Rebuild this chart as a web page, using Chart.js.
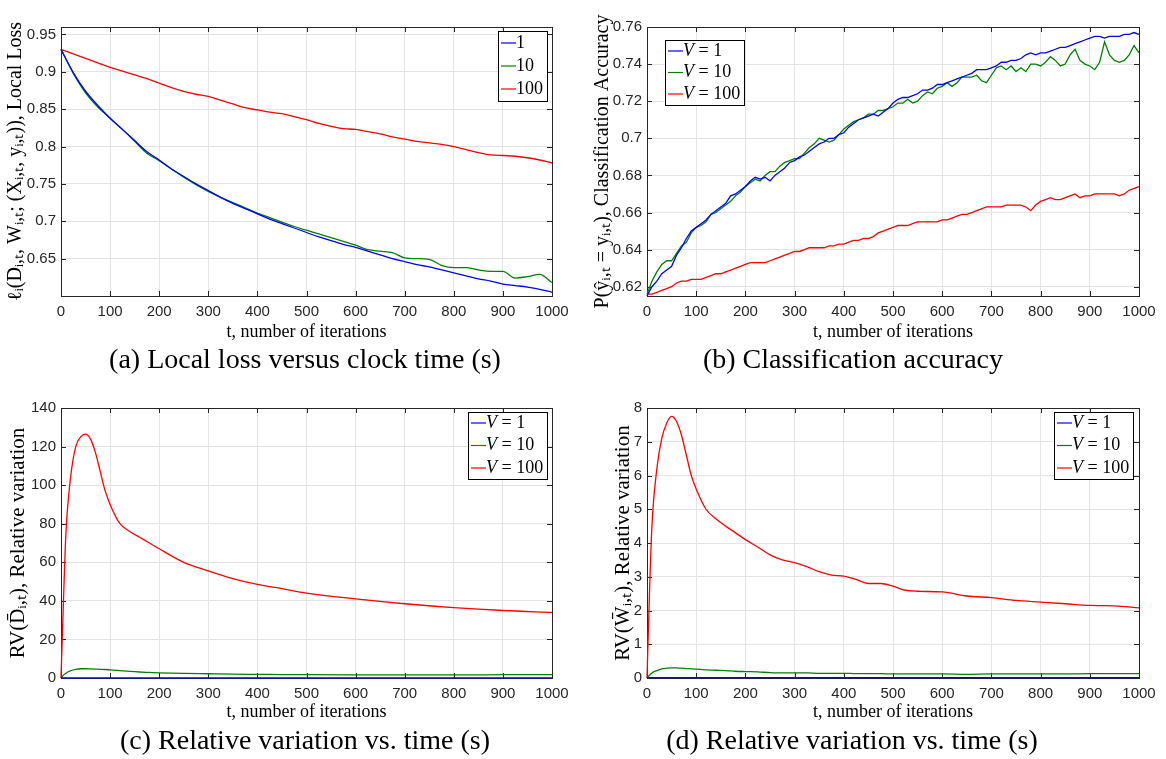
<!DOCTYPE html>
<html>
<head>
<meta charset="utf-8">
<script src="https://cdn.jsdelivr.net/npm/chart.js@4.4.0/dist/chart.umd.min.js"></script>
<style>
  body { margin: 0; background: #fff; }
  #page { position: relative; width: 1166px; height: 759px; overflow: hidden; }
  .panel { position: absolute; width: 583px; height: 345px; }
  .caption {
    position: absolute; font-family: "Liberation Serif", serif; font-size: 28px;
    color: #000; white-space: nowrap; transform: translate(-50%, -50%);
  }
</style>
</head>
<body>
<div id="page">
  <div class="panel" style="left:0;top:0"><canvas id="lossChart"></canvas></div>
  <div class="panel" style="left:583px;top:0"><canvas id="accChart"></canvas></div>
  <div class="panel" style="left:0;top:380px"><canvas id="rvdChart"></canvas></div>
  <div class="panel" style="left:583px;top:380px"><canvas id="rvwChart"></canvas></div>
  <div class="caption" style="left:305px;top:359px">(a) Local loss versus clock time (s)</div>
  <div class="caption" style="left:853px;top:359px">(b) Classification accuracy</div>
  <div class="caption" style="left:305px;top:740px">(c) Relative variation vs. time (s)</div>
  <div class="caption" style="left:852px;top:740px">(d) Relative variation vs. time (s)</div>
</div>
<script>
// ---- data ----
const xTicks = [0, 100, 200, 300, 400, 500, 600, 700, 800, 900, 1000];

// (a) local loss, sampled every 25 iterations
const lossT = [0, 25, 50, 75, 100, 125, 150, 175, 200, 225, 250, 275, 300, 325, 350, 375, 400, 425, 450, 475, 500,
  525, 550, 575, 600, 625, 650, 675, 700, 725, 750, 775, 800, 825, 850, 875, 900, 925, 950, 975, 1000];
const lossV1 = [0.930, 0.899, 0.874, 0.855, 0.838, 0.823, 0.808, 0.793, 0.782, 0.770, 0.760, 0.750, 0.741, 0.732,
  0.724, 0.717, 0.710, 0.703, 0.697, 0.691, 0.685, 0.679, 0.674, 0.669, 0.665, 0.660, 0.655, 0.650, 0.646, 0.642,
  0.639, 0.635, 0.631, 0.627, 0.623, 0.620, 0.616, 0.614, 0.612, 0.609, 0.605];
const lossV10 = [0.930, 0.898, 0.872, 0.853, 0.838, 0.823, 0.807, 0.791, 0.781, 0.770, 0.759, 0.749, 0.740, 0.732,
  0.725, 0.718, 0.711, 0.705, 0.699, 0.693, 0.688, 0.683, 0.678, 0.673, 0.668, 0.662, 0.660, 0.658, 0.651, 0.650,
  0.649, 0.641, 0.638, 0.638, 0.635, 0.633, 0.633, 0.624, 0.626, 0.629, 0.618];
const lossV100 = [0.930, 0.924, 0.918, 0.912, 0.906, 0.901, 0.896, 0.891, 0.885, 0.879, 0.874, 0.870, 0.867, 0.862,
  0.857, 0.852, 0.849, 0.846, 0.844, 0.840, 0.836, 0.831, 0.827, 0.824, 0.823, 0.820, 0.817, 0.813, 0.810, 0.807,
  0.805, 0.803, 0.800, 0.796, 0.792, 0.789, 0.788, 0.787, 0.785, 0.782, 0.778];
const lossTicks = [0.65, 0.7, 0.75, 0.8, 0.85, 0.9, 0.95];

// (b) classification accuracy, sampled every 10 iterations
const accT = [0, 10, 20, 30, 40, 50, 60, 70, 80, 90, 100, 110, 120, 130, 140, 150, 160, 170, 180, 190, 200,
  210, 220, 230, 240, 250, 260, 270, 280, 290, 300, 310, 320, 330, 340, 350, 360, 370, 380, 390, 400,
  410, 420, 430, 440, 450, 460, 470, 480, 490, 500, 510, 520, 530, 540, 550, 560, 570, 580, 590, 600,
  610, 620, 630, 640, 650, 660, 670, 680, 690, 700, 710, 720, 730, 740, 750, 760, 770, 780, 790, 800,
  810, 820, 830, 840, 850, 860, 870, 880, 890, 900, 910, 920, 930, 940, 950, 960, 970, 980, 990, 1000];
const accV1 = [0.615, 0.620, 0.623, 0.627, 0.629, 0.631, 0.637, 0.641, 0.646, 0.650, 0.652, 0.654, 0.656, 0.659,
  0.661, 0.663, 0.665, 0.669, 0.670, 0.672, 0.674, 0.677, 0.679, 0.678, 0.679, 0.677, 0.680, 0.682, 0.684, 0.687,
  0.688, 0.690, 0.691, 0.693, 0.695, 0.697, 0.698, 0.700, 0.700, 0.702, 0.703, 0.706, 0.708, 0.710, 0.711, 0.712,
  0.713, 0.712, 0.714, 0.716, 0.719, 0.721, 0.722, 0.722, 0.723, 0.724, 0.726, 0.726, 0.727, 0.729, 0.729, 0.730,
  0.731, 0.732, 0.733, 0.734, 0.735, 0.737, 0.737, 0.737, 0.738, 0.739, 0.741, 0.741, 0.742, 0.742, 0.743, 0.745,
  0.746, 0.745, 0.746, 0.746, 0.747, 0.748, 0.749, 0.749, 0.750, 0.751, 0.752, 0.753, 0.754, 0.755, 0.755, 0.754,
  0.755, 0.755, 0.755, 0.756, 0.756, 0.757, 0.756];
const accV10 = [0.616, 0.623, 0.628, 0.632, 0.634, 0.634, 0.638, 0.642, 0.644, 0.649, 0.652, 0.653, 0.655, 0.659,
  0.660, 0.662, 0.664, 0.666, 0.669, 0.671, 0.674, 0.676, 0.678, 0.677, 0.680, 0.682, 0.682, 0.685, 0.687, 0.688,
  0.689, 0.689, 0.692, 0.695, 0.697, 0.700, 0.699, 0.698, 0.699, 0.702, 0.705, 0.707, 0.709, 0.710, 0.711, 0.713,
  0.713, 0.715, 0.715, 0.716, 0.717, 0.719, 0.719, 0.721, 0.719, 0.720, 0.723, 0.725, 0.724, 0.727, 0.728, 0.730,
  0.728, 0.730, 0.733, 0.733, 0.733, 0.734, 0.731, 0.730, 0.734, 0.738, 0.739, 0.737, 0.739, 0.736, 0.738, 0.736,
  0.740, 0.740, 0.739, 0.741, 0.744, 0.742, 0.739, 0.740, 0.745, 0.748, 0.742, 0.740, 0.739, 0.737, 0.741, 0.752,
  0.745, 0.742, 0.741, 0.742, 0.745, 0.750, 0.746];
const accV100 = [0.616, 0.616, 0.617, 0.618, 0.619, 0.620, 0.622, 0.623, 0.623, 0.624, 0.624, 0.624, 0.625, 0.626,
  0.627, 0.627, 0.628, 0.629, 0.630, 0.631, 0.632, 0.633, 0.633, 0.633, 0.633, 0.634, 0.635, 0.636, 0.637, 0.638,
  0.639, 0.639, 0.640, 0.641, 0.641, 0.641, 0.641, 0.642, 0.642, 0.643, 0.643, 0.644, 0.645, 0.645, 0.646, 0.646,
  0.647, 0.649, 0.650, 0.651, 0.652, 0.653, 0.653, 0.653, 0.654, 0.655, 0.655, 0.655, 0.655, 0.655, 0.656, 0.656,
  0.657, 0.658, 0.659, 0.659, 0.660, 0.661, 0.662, 0.663, 0.663, 0.663, 0.663, 0.664, 0.664, 0.664, 0.664, 0.663,
  0.661, 0.664, 0.666, 0.667, 0.668, 0.667, 0.667, 0.668, 0.669, 0.670, 0.668, 0.669, 0.669, 0.670, 0.670, 0.670,
  0.670, 0.670, 0.669, 0.670, 0.672, 0.673, 0.674];
const accTicks = [0.62, 0.64, 0.66, 0.68, 0.7, 0.72, 0.74, 0.76];

// (c) relative variation of D
const rvdT = [0, 5, 10, 20, 30, 40, 50, 60, 70, 80, 90, 100, 120, 140, 160, 180, 200, 250, 300, 350, 400, 450, 500,
  600, 700, 800, 900, 1000];
const rvdV1 = [0, 0.1, 0.1, 0.1, 0.1, 0.1, 0.1, 0.1, 0.1, 0.1, 0.1, 0.1, 0.1, 0.1, 0.1, 0.1, 0.1, 0.1, 0.1, 0.1,
  0.1, 0.1, 0.1, 0.1, 0.1, 0.1, 0.1, 0.1];
const rvdV10 = [0, 1.5, 2.5, 3.8, 4.5, 4.8, 4.8, 4.7, 4.6, 4.5, 4.4, 4.2, 3.8, 3.4, 3.1, 2.9, 2.7, 2.4, 2.2, 2.0, 1.9,
  1.8, 1.7, 1.6, 1.6, 1.6, 1.7, 1.8];
const rvdV100 = [0, 40, 75, 105, 120, 125, 126.5, 124, 117, 107, 97, 90, 80, 76, 73, 70, 67, 60, 55.5, 51.5, 48.5,
  46.3, 44, 41, 38.5, 36.5, 35, 34];
const rvdTicks = [0, 20, 40, 60, 80, 100, 120, 140];

// (d) relative variation of W
const rvwT = [0, 5, 10, 20, 30, 40, 50, 60, 70, 80, 90, 100, 120, 140, 160, 180, 200, 225, 250, 275, 300, 325, 350,
  375, 400, 425, 450, 475, 500, 525, 550, 600, 650, 700, 750, 800, 850, 900, 950, 1000];
const rvwV1 = [0, 0.01, 0.01, 0.01, 0.01, 0.01, 0.01, 0.01, 0.01, 0.01, 0.01, 0.01, 0.01, 0.01, 0.01, 0.01, 0.01,
  0.01, 0.01, 0.01, 0.01, 0.01, 0.01, 0.01, 0.01, 0.01, 0.01, 0.01, 0.01, 0.01, 0.01, 0.01, 0.01, 0.01, 0.01, 0.01,
  0.01, 0.01, 0.01, 0.01];
const rvwV10 = [0, 0.08, 0.15, 0.22, 0.27, 0.29, 0.3, 0.3, 0.29, 0.28, 0.27, 0.26, 0.24, 0.23, 0.22, 0.2, 0.19, 0.18,
  0.16, 0.15, 0.15, 0.15, 0.14, 0.14, 0.14, 0.13, 0.13, 0.13, 0.12, 0.12, 0.12, 0.12, 0.11, 0.12, 0.12, 0.12, 0.12,
  0.13, 0.13, 0.13];
const rvwV100 = [0, 2.5, 4.5, 6.2, 7.1, 7.55, 7.75, 7.6, 7.2, 6.6, 6.0, 5.6, 5.0, 4.72, 4.5, 4.3, 4.1, 3.88, 3.65,
  3.5, 3.42, 3.3, 3.15, 3.05, 3.02, 2.92, 2.8, 2.8, 2.72, 2.6, 2.57, 2.55, 2.43, 2.38, 2.3, 2.25, 2.2, 2.15, 2.14,
  2.08];
const rvwTicks = [0, 1, 2, 3, 4, 5, 6, 7, 8];

const legendPlain = ['1', '10', '100'];
const legendV = ['V = 1', 'V = 10', 'V = 100'];

const BLUE = '#0000ff', GREEN = '#008000', RED = '#ff0000';
const INK = '#262626';
const LEG_FONT = '18px "Liberation Serif"';
const LEG_FONT_IT = 'italic 18px "Liberation Serif"';

// box around the axes + inward tick marks (under the lines), boxed legend on top
const axesFrame = {
  id: 'axesFrame',
  beforeDatasetsDraw(chart) {
    const { ctx, chartArea: a, scales } = chart;
    ctx.save();
    ctx.strokeStyle = INK;
    ctx.lineWidth = 1;
    ctx.beginPath();
    scales.x.ticks.forEach(t => {
      const px = Math.round(scales.x.getPixelForValue(t.value)) + 0.5;
      ctx.moveTo(px, a.bottom); ctx.lineTo(px, a.bottom - 5);
      ctx.moveTo(px, a.top); ctx.lineTo(px, a.top + 5);
    });
    scales.y.ticks.forEach(t => {
      const py = Math.round(scales.y.getPixelForValue(t.value)) + 0.5;
      ctx.moveTo(a.left, py); ctx.lineTo(a.left + 5, py);
      ctx.moveTo(a.right, py); ctx.lineTo(a.right - 5, py);
    });
    ctx.stroke();
    ctx.strokeRect(Math.round(a.left) + 0.5, Math.round(a.top) + 0.5,
      Math.round(a.right - a.left), Math.round(a.bottom - a.top));
    ctx.restore();
  },
  afterDraw(chart, args, opts) {
    const { ctx, chartArea: a } = chart;
    ctx.save();
    const labels = opts.labels;
    ctx.textBaseline = 'middle';
    const measure = lab => {
      if (lab.startsWith('V')) {
        ctx.font = LEG_FONT_IT;
        const w1 = ctx.measureText('V').width;
        ctx.font = LEG_FONT;
        return w1 + ctx.measureText(lab.slice(1)).width;
      }
      ctx.font = LEG_FONT;
      return ctx.measureText(lab).width;
    };
    const textW = Math.max(...labels.map(measure));
    const w = Math.round(textW + 22);
    const h = opts.pad * 2 + opts.row * (labels.length - 1);
    const bx = opts.corner === 'right' ? Math.round(a.right - opts.dx - w) : Math.round(a.left + opts.dx);
    const by = Math.round(a.top + opts.dy);
    ctx.fillStyle = '#fff';
    ctx.fillRect(bx, by, w, h);
    ctx.strokeStyle = '#000';
    ctx.lineWidth = 1;
    ctx.strokeRect(bx + 0.5, by + 0.5, w, h);
    labels.forEach((lab, i) => {
      const cy = by + opts.pad + i * opts.row;
      ctx.strokeStyle = chart.data.datasets[i].borderColor;
      ctx.lineWidth = 1.2;
      ctx.beginPath();
      ctx.moveTo(bx + 3, cy); ctx.lineTo(bx + 18, cy);
      ctx.stroke();
      ctx.fillStyle = '#000';
      let tx = bx + 18;
      if (lab.startsWith('V')) {
        ctx.font = LEG_FONT_IT;
        ctx.fillText('V', tx, cy);
        tx += ctx.measureText('V').width;
        ctx.font = LEG_FONT;
        ctx.fillText(lab.slice(1), tx, cy);
      } else {
        ctx.font = LEG_FONT;
        ctx.fillText(lab, tx, cy);
      }
    });
    ctx.restore();
  }
};

function series(xs, ys, label, color, smooth) {
  return {
    label: label,
    data: xs.map((x, i) => ({ x: x, y: ys[i] })),
    borderColor: color,
    borderWidth: 1.3,
    pointRadius: 0,
    fill: false,
    clip: 2,
    cubicInterpolationMode: smooth ? 'monotone' : 'default',
    tension: 0
  };
}

function makeChart(id, datasets, cfg) {
  const ctx = document.getElementById(id).getContext('2d');
  return new Chart(ctx, {
    type: 'line',
    data: { datasets: datasets },
    options: {
      responsive: false,
      animation: false,
      maintainAspectRatio: false,
      layout: { padding: { top: cfg.top, right: cfg.right, left: 0, bottom: 0 } },
      scales: {
        x: {
          type: 'linear', min: 0, max: 1000,
          afterBuildTicks: s => { s.ticks = xTicks.map(v => ({ value: v })); },
          afterFit: s => { s.height = cfg.xHeight; },
          grid: { color: '#e3e3e3', drawTicks: false },
          border: { display: false },
          ticks: { color: INK, padding: 7, maxRotation: 0, autoSkip: false,
                   callback: v => String(v),
                   font: { family: '"Liberation Sans"', size: 15 } },
          title: { display: true, text: 't, number of iterations', color: '#000',
                   padding: { top: 0, bottom: 2 },
                   font: { family: '"Liberation Serif"', size: 18 } }
        },
        y: {
          type: 'linear', min: cfg.yMin, max: cfg.yMax,
          afterBuildTicks: s => { s.ticks = cfg.yTicks.map(v => ({ value: v })); },
          afterFit: s => { s.width = cfg.yWidth; },
          grid: { color: '#e3e3e3', drawTicks: false },
          border: { display: false },
          ticks: { color: INK, padding: 5,
                   callback: v => String(Number(v.toFixed(2))),
                   font: { family: '"Liberation Sans"', size: 15 } },
          title: { display: true, text: cfg.yTitle, color: '#000',
                   padding: { top: cfg.yTitlePad, bottom: 0 },
                   font: { family: '"Liberation Serif"', size: cfg.yTitleSize } }
        }
      },
      plugins: {
        legend: { display: false },
        tooltip: { enabled: false },
        axesFrame: cfg.legend
      }
    },
    plugins: [axesFrame]
  });
}

document.querySelectorAll('canvas').forEach(c => { c.width = 583; c.height = 345; });

makeChart('lossChart', [
  series(lossT, lossV1, '1', BLUE, true),
  series(lossT, lossV10, '10', GREEN, true),
  series(lossT, lossV100, '100', RED, true)
], {
  top: 27, right: 31, xHeight: 49, yWidth: 61, yMin: 0.6, yMax: 0.96, yTicks: lossTicks, yTitlePad: 4, yTitleSize: 20,
  yTitle: 'ℓᵢ(Dᵢ,ₜ, Wᵢ,ₜ; (Xᵢ,ₜ, yᵢ,ₜ)), Local Loss',
  legend: { labels: legendPlain, corner: 'right', dx: 5, dy: 4, pad: 12, row: 23 }
});

makeChart('accChart', [
  series(accT, accV1, 'V = 1', BLUE, false),
  series(accT, accV10, 'V = 10', GREEN, false),
  series(accT, accV100, 'V = 100', RED, false)
], {
  top: 27, right: 27, xHeight: 49, yWidth: 64, yMin: 0.615, yMax: 0.76, yTicks: accTicks, yTitlePad: 8, yTitleSize: 20,
  yTitle: 'P(ŷᵢ,ₜ = yᵢ,ₜ), Classification Accuracy',
  legend: { labels: legendV, corner: 'left', dx: 18, dy: 13, pad: 11, row: 21.5 }
});

makeChart('rvdChart', [
  series(rvdT, rvdV1, 'V = 1', BLUE, true),
  series(rvdT, rvdV10, 'V = 10', GREEN, true),
  series(rvdT, rvdV100, 'V = 100', RED, true)
], {
  top: 28, right: 31, xHeight: 47, yWidth: 61, yMin: 0, yMax: 140, yTicks: rvdTicks, yTitlePad: 6, yTitleSize: 21,
  yTitle: 'RV(D̄ᵢ,ₜ), Relative variation',
  legend: { labels: legendV, corner: 'right', dx: 5, dy: 4, pad: 11, row: 22.5 }
});

makeChart('rvwChart', [
  series(rvwT, rvwV1, 'V = 1', BLUE, true),
  series(rvwT, rvwV10, 'V = 10', GREEN, true),
  series(rvwT, rvwV100, 'V = 100', RED, true)
], {
  top: 28, right: 27, xHeight: 47, yWidth: 64, yMin: 0, yMax: 8, yTicks: rvwTicks, yTitlePad: 28, yTitleSize: 21,
  yTitle: 'RV(W̄ᵢ,ₜ), Relative variation',
  legend: { labels: legendV, corner: 'right', dx: 6, dy: 4, pad: 11, row: 22.5 }
});
</script>
</body>
</html>
